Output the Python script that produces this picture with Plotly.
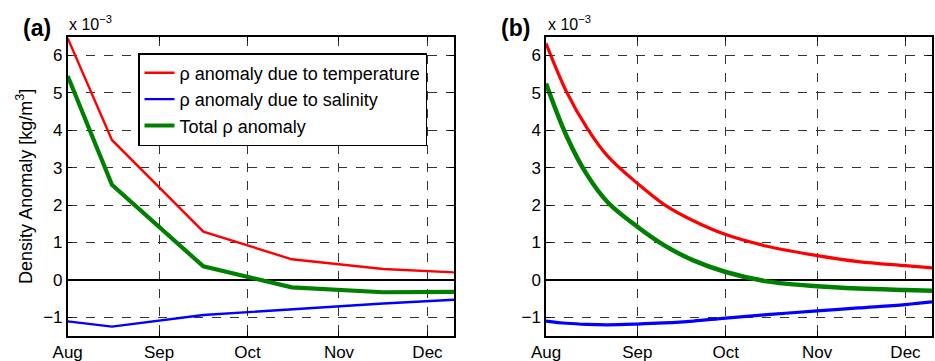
import plotly.graph_objects as go

# ---------------- data ----------------
month_ticks = ["2000-08-01", "2000-09-01", "2000-10-01", "2000-11-01", "2000-12-01"]
month_labels = ["Aug", "Sep", "Oct", "Nov", "Dec"]
y_ticks = [-1, 0, 1, 2, 3, 4, 5, 6]

# panel (a): monthly-ish values (units of 1e-3 kg/m^3)
dates_a = ["2000-08-01", "2000-08-16", "2000-09-16", "2000-10-16", "2000-11-16", "2000-12-10"]
temp_a = [6.46, 3.74, 1.29, 0.55, 0.29, 0.20]
salt_a = [-1.11, -1.25, -0.94, -0.78, -0.63, -0.53]
total_a = [5.45, 2.54, 0.36, -0.20, -0.33, -0.32]

# panel (b): smooth curves
dates_b = ["2000-08-01", "2000-08-08", "2000-08-15", "2000-08-22", "2000-09-01",
           "2000-09-10", "2000-09-20", "2000-10-01", "2000-10-15", "2000-11-01", "2000-11-15",
           "2000-12-01", "2000-12-10"]
temp_b = [6.32, 5.02, 4.05, 3.30, 2.58, 2.02, 1.58, 1.21, 0.90, 0.65, 0.49, 0.38, 0.32]
salt_b = [-1.10, -1.16, -1.19, -1.20, -1.18, -1.15, -1.10, -1.02, -0.93, -0.83, -0.75, -0.66, -0.59]
total_b = [5.25, 3.84, 2.80, 2.07, 1.42, 0.93, 0.52, 0.21, -0.04, -0.17, -0.23, -0.27, -0.29]

names = ["\u03c1 anomaly due to temperature", "\u03c1 anomaly due to salinity", "Total \u03c1 anomaly"]
colors = ["#ff0000", "#0000ff", "#008000"]

FONT = "Liberation Sans, Arial, Helvetica, sans-serif"

W, H = 935, 361


def px(x):
    return x / W


def py(y):
    return 1 - y / H


fig = go.Figure()

# panel (a)
for y, name, col, w in zip([temp_a, salt_a, total_a], names, colors, [2.4, 2.4, 4.2]):
    fig.add_trace(go.Scatter(x=dates_a, y=y, name=name, mode="lines",
                             line=dict(color=col, width=w), xaxis="x", yaxis="y",
                             showlegend=True))

# panel (b)
for y, name, col, w in zip([temp_b, salt_b, total_b], names, colors, [3.2, 3.2, 4.5]):
    fig.add_trace(go.Scatter(x=dates_b, y=y, name=name, mode="lines",
                             line=dict(color=col, width=w, shape="spline", smoothing=1.0),
                             xaxis="x2", yaxis="y2", showlegend=False))

common_x = dict(type="date", range=["2000-08-01", "2000-12-10"], tickvals=month_ticks,
                ticktext=month_labels, ticks="inside", ticklen=5, tickcolor="black",
                showline=True, linecolor="black", linewidth=1.5, mirror="ticks",
                showgrid=True, gridcolor="#333333", griddash="dash", gridwidth=1,
                tickfont=dict(family=FONT, size=17, color="black"), zeroline=False,
                automargin=False)
common_y = dict(range=[-1.5, 6.5], tickvals=y_ticks, ticks="inside", ticklen=5,
                tickcolor="black", showline=True, linecolor="black", linewidth=1.5,
                mirror="ticks", showgrid=True, gridcolor="#333333", griddash="dash",
                gridwidth=1, zeroline=True, zerolinecolor="black", zerolinewidth=2,
                tickfont=dict(family=FONT, size=17, color="black"), automargin=False)

fig.update_layout(
    width=W, height=H,
    margin=dict(l=0, r=0, t=0, b=0, autoexpand=False),
    paper_bgcolor="white", plot_bgcolor="white",
    font=dict(family=FONT, color="black"),
    xaxis=dict(domain=[px(67.7), px(454.0)], anchor="y", **common_x),
    yaxis=dict(domain=[py(336.0), py(36.7)], anchor="x",
               title=dict(text="Density Anomaly [kg/m<sup>3</sup>]",
                          font=dict(family=FONT, size=18), standoff=6),
               **common_y),
    xaxis2=dict(domain=[px(546.0), px(932.0)], anchor="y2", **common_x),
    yaxis2=dict(domain=[py(336.0), py(36.7)], anchor="x2", **common_y),
    legend=dict(x=px(138), y=py(53), xanchor="left", yanchor="top",
                bgcolor="white", bordercolor="black", borderwidth=1.5,
                font=dict(family=FONT, size=18, color="black"),
                itemwidth=30, tracegroupgap=0),
    showlegend=True,
)

for lab, xl, xm in [("(a)", 21, 67), ("(b)", 499, 546)]:
    fig.add_annotation(text="<b>" + lab + "</b>", x=px(xl), y=py(28), xref="paper", yref="paper",
                       xanchor="left", yanchor="middle", showarrow=False,
                       font=dict(family=FONT, size=23, color="black"))
    fig.add_annotation(text="x 10<sup>\u22123</sup>", x=px(xm), y=py(35), xref="paper", yref="paper",
                       xanchor="left", yanchor="bottom", showarrow=False,
                       font=dict(family=FONT, size=16, color="black"))

fig.write_html("out.html",
               config={"displayModeBar": False},
               post_script="document.body.style.margin='0';document.body.style.overflow='hidden';")
